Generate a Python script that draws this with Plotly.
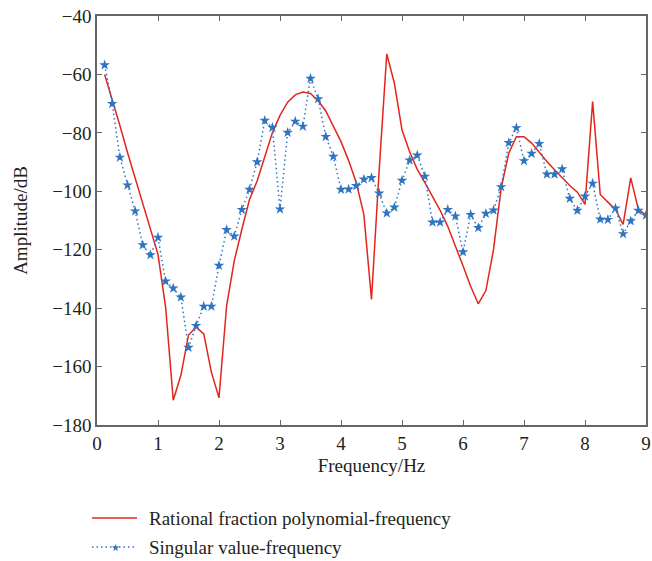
import plotly.graph_objects as go

freq = [0.125 * k for k in range(1, 73)]

rational = [
    -60.0, -68.5, -77.5, -86.7, -95.5, -104.5, -113.5, -121.6,
    -139.7, -171.5, -163.0, -149.2, -146.5, -148.8, -161.9, -170.7,
    -139.2, -123.8, -113.0, -102.8, -96.5, -88.0, -80.0, -74.0,
    -69.5, -67.0, -66.0, -66.5, -69.0, -72.5, -77.5, -83.0,
    -89.5, -97.0, -108.0, -137.0, -93.0, -53.0, -63.0, -79.0,
    -86.5, -92.5, -97.0, -101.5, -106.5, -112.0, -118.5, -125.5,
    -132.5, -138.5, -134.0, -120.0, -99.0, -87.0, -81.3, -81.3,
    -83.5, -86.7, -89.8, -92.6, -95.4, -98.0, -100.3, -104.5,
    -69.3, -101.1, -103.7, -106.2, -111.3, -95.4, -106.2, -108.2,
]

singular = [
    -56.8, -70.0, -88.4, -97.9, -106.8, -118.4, -121.8, -115.8,
    -130.8, -133.2, -136.3, -153.5, -146.0, -139.4, -139.4, -125.4,
    -113.2, -115.4, -106.3, -99.4, -90.0, -75.8, -78.2, -106.1,
    -79.9, -76.1, -77.8, -61.4, -68.4, -81.3, -88.1, -99.4,
    -99.3, -98.1, -95.9, -95.4, -100.7, -107.5, -105.5, -96.3,
    -89.4, -87.7, -94.9, -110.6, -110.6, -106.3, -108.5, -120.8,
    -108.0, -112.5, -107.6, -106.5, -98.5, -83.4, -78.3, -89.6,
    -87.1, -83.7, -94.2, -94.2, -92.4, -102.5, -106.6, -101.7,
    -97.3, -109.6, -109.7, -105.8, -114.6, -110.2, -106.6, -108.2,
]

series_names = ["Rational fraction polynomial-frequency", "Singular value-frequency"]

RED = "#e3261c"
BLUE = "#2f74c0"
FONT = "Liberation Serif"
TXT = "#231f20"
AX = "#666666"
FS = 19
DOT = "1.5px,3px"

fig = go.Figure()
fig.add_trace(go.Scatter(x=freq, y=rational, mode="lines",
                         line=dict(color=RED, width=1.5), showlegend=False))
fig.add_trace(go.Scatter(x=freq, y=singular, mode="lines+markers",
                         line=dict(color=BLUE, width=1.5, dash=DOT),
                         marker=dict(symbol="star", size=8, color=BLUE),
                         showlegend=False))

L, R, T, B = 97, 6, 16, 136
W, H = 652, 561
pw, ph = W - L - R, H - T - B

def px2paper(px, py):
    return (px - L) / pw, (H - B - py) / ph

# manual legend
x0, y0 = px2paper(92, 518)
x1, _ = px2paper(137, 518)
fig.add_shape(type="line", xref="paper", yref="paper", x0=x0, x1=x1, y0=y0, y1=y0,
              line=dict(color=RED, width=1.5))
_, y2 = px2paper(92, 547)
fig.add_shape(type="line", xref="paper", yref="paper", x0=x0, x1=x1, y0=y2, y1=y2,
              line=dict(color=BLUE, width=1.5, dash=DOT))
sx, _ = px2paper(115, 547)
fig.add_annotation(x=sx, y=y2, xref="paper", yref="paper", text="★",
                   showarrow=False, xanchor="center", yanchor="middle",
                   font=dict(family="DejaVu Sans", size=10, color=BLUE))
tx, _ = px2paper(147, 518)
for name, yy in zip(series_names, [y0, y2]):
    fig.add_annotation(x=tx, y=yy, xref="paper", yref="paper", text=name,
                       showarrow=False, xanchor="left", yanchor="middle",
                       font=dict(family=FONT, size=FS, color=TXT))

axis_common = dict(showline=True, linecolor=AX, linewidth=1.5, mirror="ticks",
                   ticks="inside", ticklen=5, tickcolor=AX, tickwidth=1,
                   showgrid=False, zeroline=False, automargin=False,
                   tickfont=dict(family=FONT, size=FS, color=TXT))

fig.update_layout(
    width=W, height=H,
    margin=dict(l=L, r=R, t=T, b=B),
    paper_bgcolor="white", plot_bgcolor="white",
    xaxis=dict(range=[0, 9], dtick=1, tick0=0,
               title=dict(text="Frequency/Hz", font=dict(family=FONT, size=FS, color=TXT), standoff=6),
               **axis_common),
    yaxis=dict(range=[-180, -40], dtick=20, tick0=-180,
               title=dict(text="Amplitude/dB", font=dict(family=FONT, size=FS, color=TXT), standoff=20),
               **axis_common),
)

fig.write_html("out.html")
